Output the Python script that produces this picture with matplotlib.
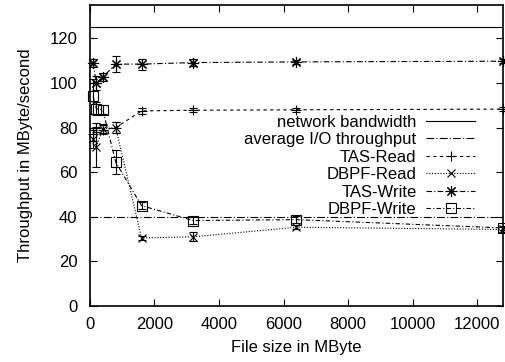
#!/usr/bin/env python3
"""Throughput vs file size, gnuplot-style errorlines."""

import matplotlib
matplotlib.use("Agg")
import matplotlib.pyplot as plt
from matplotlib.lines import Line2D

plt.rcParams["font.family"] = ["Liberation Sans", "DejaVu Sans"]
plt.rcParams["font.size"] = 12

file_size = [100, 200, 400, 800, 1600, 3200, 6400, 12800]

tas_read = [77, 80, 79, 80, 87.5, 87.8, 88, 88.3]
tas_read_err = [3, 2, 2, 2.5, 1.5, 1, 1, 1]
dbpf_read = [75, 71.5, 79.5, 80, 30.5, 31, 35.3, 34.3]
dbpf_read_err = [4, 9, 2, 2.5, 1, 2, 1, 1]
tas_write = [109, 100, 102.7, 108.5, 108.5, 109.2, 109.5, 109.8]
tas_write_err = [2, 3, 2, 3.5, 2.5, 1.5, 1, 1]
dbpf_write = [94, 88.5, 88, 64.5, 45, 38.3, 38.7, 35]
dbpf_write_err = [8, 3, 2, 5.5, 1.5, 1.5, 1.5, 1]

network_bandwidth = 125
average_io = 40

fig = plt.figure(figsize=(5.05, 3.62), dpi=100)
ax = fig.add_axes([0.178, 0.155, 0.818, 0.831])

lw = 0.8
ax.axhline(network_bandwidth, color="black", lw=lw)
ax.axhline(average_io, color="black", lw=lw, dashes=(7, 2, 1, 2))

styles = [
    ("TAS-Read", tas_read, tas_read_err, "+", (3, 3), 7),
    ("DBPF-Read", dbpf_read, dbpf_read_err, "x", (1, 1.5), 6),
    ("TAS-Write", tas_write, tas_write_err, (8, 2, 0), (5, 2, 1, 2), 8),
    ("DBPF-Write", dbpf_write, dbpf_write_err, "s", (4, 2, 1, 2), 7),
]
for name, ys, err, marker, dashes, ms in styles:
    ax.errorbar(file_size, ys, yerr=err, color="black", lw=lw, dashes=dashes,
                marker=marker, ms=ms, mfc="none", mew=0.8,
                elinewidth=0.8, capsize=3, capthick=0.8, clip_on=False)

handles = [Line2D([], [], color="black", lw=lw),
           Line2D([], [], color="black", lw=lw, dashes=(7, 2, 1, 2))]
labels = ["network bandwidth", "average I/O throughput"]
for name, ys, err, marker, dashes, ms in styles:
    handles.append(Line2D([], [], color="black", lw=lw, dashes=dashes,
                          marker=marker, ms=ms, mfc="none", mew=0.8))
    labels.append(name)
ax.legend(handles, labels, loc="upper right", bbox_to_anchor=(0.948, 0.658),
          frameon=False, markerfirst=False, handlelength=2.9,
          labelspacing=0.15, borderaxespad=0, handletextpad=0.6)

ax.set_xlim(0, 12800)
ax.set_ylim(0, 135)
ax.set_xticks(range(0, 12001, 2000))
ax.set_yticks(range(0, 121, 20))
ax.tick_params(direction="in", top=True, right=True, length=5, width=0.8)
ax.tick_params(axis="y", pad=9)
ax.tick_params(axis="x", pad=8)
for s in ax.spines.values():
    s.set_linewidth(1.2)
ax.set_xlabel("File size in MByte", labelpad=6)
ax.set_ylabel("Throughput in MByte/second", labelpad=12)

fig.savefig("out.png", dpi=100)
